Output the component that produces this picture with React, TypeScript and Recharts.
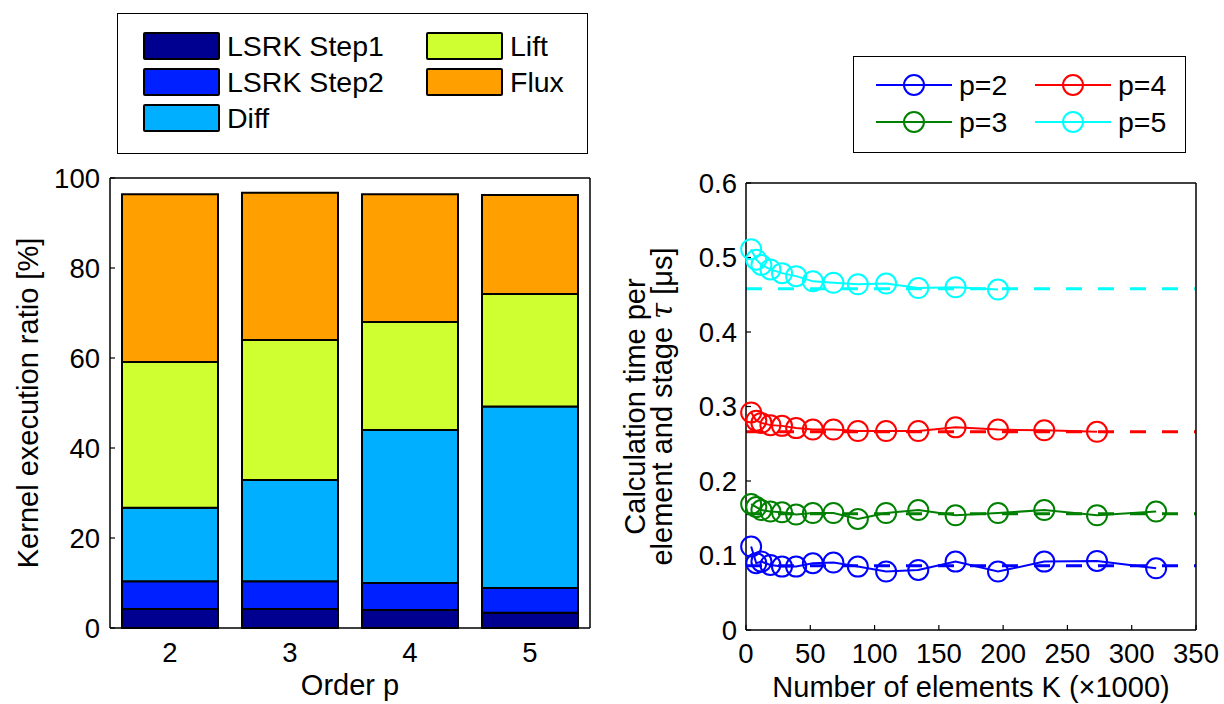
import React from "react";
import {
  BarChart,
  Bar,
  LineChart,
  Line,
  XAxis,
  YAxis,
  Legend,
  ReferenceLine,
} from "recharts";

const FONT = "'Liberation Sans', Arial, Helvetica, sans-serif";
const TICK_FS = 27.5;
const LABEL_FS = 29;

// left: kernel execution ratio per order p [%]
const orders = ["2", "3", "4", "5"];
const lsrkStep1 = [4.2, 4.2, 4.0, 3.4];
const lsrkStep2 = [6.2, 6.2, 6.0, 5.5];
const diffPart = [16.3, 22.5, 34.0, 40.3];
const liftPart = [32.4, 31.1, 24.0, 25.0];
const fluxPart = [37.3, 32.7, 28.4, 22.0];
const ratioTicks = [0, 20, 40, 60, 80, 100];

// right: calculation time per element and stage [us]
const kValues = [4, 8, 12, 19, 28, 39, 52, 68, 87, 109, 134, 163, 196, 232, 273, 319];
const tauP2 = [0.112, 0.0896, 0.0918, 0.0873, 0.0851, 0.0851, 0.0896, 0.0905, 0.0851, 0.0784, 0.0806, 0.0918, 0.0784, 0.0918, 0.0927, 0.0828];
const tauP3 = [0.169, 0.165, 0.161, 0.159, 0.158, 0.155, 0.157, 0.157, 0.149, 0.157, 0.161, 0.154, 0.157, 0.161, 0.154, 0.159];
const tauP4 = [0.292, 0.281, 0.278, 0.275, 0.274, 0.271, 0.269, 0.269, 0.267, 0.267, 0.267, 0.272, 0.269, 0.268, 0.266];
const tauP5 = [0.511, 0.497, 0.49, 0.484, 0.479, 0.475, 0.468, 0.466, 0.464, 0.465, 0.459, 0.46, 0.457];
const tauLimit = [0.0864, 0.156, 0.266, 0.458];
const kTicks = [0, 50, 100, 150, 200, 250, 300, 350];
const tauTicks = [0, 0.1, 0.2, 0.3, 0.4, 0.5, 0.6];

const kernels = [
  { key: "step1", name: "LSRK Step1", color: "#000090", values: lsrkStep1 },
  { key: "step2", name: "LSRK Step2", color: "#0020FF", values: lsrkStep2 },
  { key: "diff", name: "Diff", color: "#00AFFF", values: diffPart },
  { key: "lift", name: "Lift", color: "#CFFF30", values: liftPart },
  { key: "flux", name: "Flux", color: "#FFA000", values: fluxPart },
];

const orderSeries = [
  { name: "p=2", color: "#0000FF", values: tauP2, limit: tauLimit[0] },
  { name: "p=3", color: "#008000", values: tauP3, limit: tauLimit[1] },
  { name: "p=4", color: "#FF0000", values: tauP4, limit: tauLimit[2] },
  { name: "p=5", color: "#00FFFF", values: tauP5, limit: tauLimit[3] },
];

const barData = orders.map((o, i) => {
  const row: Record<string, any> = { order: o };
  kernels.forEach((k) => (row[k.key] = k.values[i]));
  return row;
});

const tickStyle = { fill: "#000", fontSize: TICK_FS, fontFamily: FONT };
const axisLine = { stroke: "#000", strokeWidth: 1.5 };
const tickLine = { stroke: "#000", strokeWidth: 1.2 };

function XLabel({ viewBox, text }: any) {
  const { x, y, width } = viewBox;
  return (
    <text x={x + width / 2} y={y + 67} textAnchor="middle" fontSize={LABEL_FS} fontFamily={FONT} fill="#000">
      {text}
    </text>
  );
}

function LeftYLabel({ viewBox }: any) {
  const { x, y, height } = viewBox;
  const cx = x + 38;
  const cy = y + height / 2;
  return (
    <text x={cx} y={cy} textAnchor="middle" fontSize={LABEL_FS} fontFamily={FONT} fill="#000" transform={`rotate(-90 ${cx} ${cy})`}>
      Kernel execution ratio [%]
    </text>
  );
}

function RightYLabel({ viewBox }: any) {
  const { x, y, height } = viewBox;
  const cy = y + height / 2;
  const x1 = x + 41;
  const x2 = x + 80;
  return (
    <g>
      <text x={x1} y={cy + 4} textAnchor="middle" fontSize={LABEL_FS} fontFamily={FONT} fill="#000" transform={`rotate(-90 ${x1} ${cy})`}>
        Calculation time per
      </text>
      <text x={x2} y={cy - 8} textAnchor="middle" fontSize={LABEL_FS} fontFamily={FONT} fill="#000" transform={`rotate(-90 ${x2} ${cy})`}>
        element and stage <tspan fontStyle="italic" fontFamily="'DejaVu Serif', serif">τ</tspan> [μs]
      </text>
    </g>
  );
}

function KernelLegend() {
  const rows = [
    [kernels[0], kernels[3]],
    [kernels[1], kernels[4]],
    [kernels[2], null],
  ];
  return (
    <div style={{ position: "relative", width: 471, height: 141, border: "1.5px solid #000", boxSizing: "border-box", background: "#fff", fontFamily: FONT, fontSize: 28.5 }}>
      {rows.map((row, r) =>
        row.map((k, c) =>
          k ? (
            <div key={k.key} style={{ position: "absolute", left: c === 0 ? 25 : 308, top: 18 + r * 36, height: 28, display: "flex", alignItems: "center" }}>
              <div style={{ width: 77, height: 28, background: k.color, border: "2px solid #000", boxSizing: "border-box", borderRadius: 2 }} />
              <span style={{ marginLeft: 7, lineHeight: "28px" }}>{k.name}</span>
            </div>
          ) : null
        )
      )}
    </div>
  );
}

function OrderLegend() {
  const cols = [
    [orderSeries[0], orderSeries[1]],
    [orderSeries[2], orderSeries[3]],
  ];
  return (
    <div style={{ position: "relative", width: 333, height: 97, border: "1.5px solid #000", boxSizing: "border-box", background: "#fff", fontFamily: FONT, fontSize: 28.5 }}>
      {cols.map((col, c) =>
        col.map((s, r) => (
          <div key={s.name} style={{ position: "absolute", left: c === 0 ? 22 : 181, top: 10 + r * 37, height: 36, display: "flex", alignItems: "center" }}>
            <svg width={76} height={36}>
              <line x1={0} y1={18} x2={76} y2={18} stroke={s.color} strokeWidth={2} />
              <circle cx={38} cy={18} r={10} fill="none" stroke={s.color} strokeWidth={2} />
            </svg>
            <span style={{ marginLeft: 7, lineHeight: "36px" }}>{s.name}</span>
          </div>
        ))
      )}
    </div>
  );
}

export default function App() {
  return (
    <div style={{ position: "absolute", left: 0, top: 0, width: 1224, height: 704, background: "#fff" }}>
      <div style={{ position: "absolute", left: 0, top: 0 }}>
        <BarChart
          width={600}
          height={704}
          data={barData}
          margin={{ top: 168, right: 0, bottom: 0, left: 0 }}
          barCategoryGap="10%"
        >
          <XAxis
            xAxisId="b"
            dataKey="order"
            height={76}
            tickSize={-5}
            tickMargin={19}
            tick={tickStyle}
            axisLine={axisLine}
            tickLine={false}
            label={<XLabel text="Order p" />}
          />
          <XAxis xAxisId="t" dataKey="order" orientation="top" height={10} tickSize={-5} tick={false} axisLine={axisLine} tickLine={tickLine} />
          <YAxis
            yAxisId="l"
            width={110}
            domain={[0, 100]}
            ticks={ratioTicks}
            interval={0}
            tickSize={-5}
            tickMargin={15}
            tick={tickStyle}
            axisLine={axisLine}
            tickLine={tickLine}
            label={<LeftYLabel />}
          />
          <YAxis yAxisId="r" orientation="right" width={10} domain={[0, 100]} ticks={ratioTicks} interval={0} tickSize={-5} tick={false} axisLine={axisLine} tickLine={tickLine} />
          {kernels.map((k) => (
            <Bar
              key={k.key}
              xAxisId="b"
              yAxisId="l"
              dataKey={k.key}
              name={k.name}
              stackId="ratio"
              fill={k.color}
              stroke="#000"
              strokeWidth={2}
              isAnimationActive={false}
            />
          ))}
          <Legend
            layout="horizontal"
            verticalAlign="middle"
            align="center"
            content={<KernelLegend />}
            wrapperStyle={{ left: 117, top: 13, width: 471, height: 141 }}
          />
        </BarChart>
      </div>

      <div style={{ position: "absolute", left: 600, top: 0 }}>
        <LineChart width={624} height={704} margin={{ top: 173, right: 0, bottom: 0, left: 0 }}>
          <XAxis
            xAxisId="b"
            type="number"
            dataKey="k"
            domain={[0, 350]}
            ticks={kTicks}
            interval={0}
            height={74}
            tickSize={-5}
            tickMargin={18}
            tick={tickStyle}
            axisLine={axisLine}
            tickLine={tickLine}
            label={<XLabel text="Number of elements K (×1000)" />}
          />
          <XAxis xAxisId="t" type="number" orientation="top" domain={[0, 350]} ticks={kTicks} interval={0} height={10} tickSize={-5} tick={false} axisLine={axisLine} tickLine={tickLine} />
          <YAxis
            yAxisId="l"
            width={146}
            domain={[0, 0.6]}
            ticks={tauTicks}
            interval={0}
            tickSize={-5}
            tickMargin={14}
            tick={tickStyle}
            axisLine={axisLine}
            tickLine={tickLine}
            label={<RightYLabel />}
          />
          <YAxis yAxisId="r" orientation="right" width={28} domain={[0, 0.6]} ticks={tauTicks} interval={0} tickSize={-5} tick={false} axisLine={axisLine} tickLine={tickLine} />
          {orderSeries.map((s) => (
            <ReferenceLine
              key={s.name + "-limit"}
              xAxisId="b"
              yAxisId="l"
              y={s.limit}
              stroke={s.color}
              strokeWidth={3}
              strokeDasharray="16 16"
            />
          ))}
          {orderSeries.map((s) => (
            <Line
              key={s.name}
              xAxisId="b"
              yAxisId="l"
              data={s.values.map((v, i) => ({ k: kValues[i], tau: v }))}
              dataKey="tau"
              name={s.name}
              type="linear"
              stroke={s.color}
              strokeWidth={2}
              dot={{ r: 10, fill: "none", stroke: s.color, strokeWidth: 2 }}
              activeDot={false}
              isAnimationActive={false}
            />
          ))}
          <Legend
            layout="horizontal"
            verticalAlign="middle"
            align="center"
            content={<OrderLegend />}
            wrapperStyle={{ left: 253, top: 56, width: 333, height: 97 }}
          />
        </LineChart>
      </div>
    </div>
  );
}
